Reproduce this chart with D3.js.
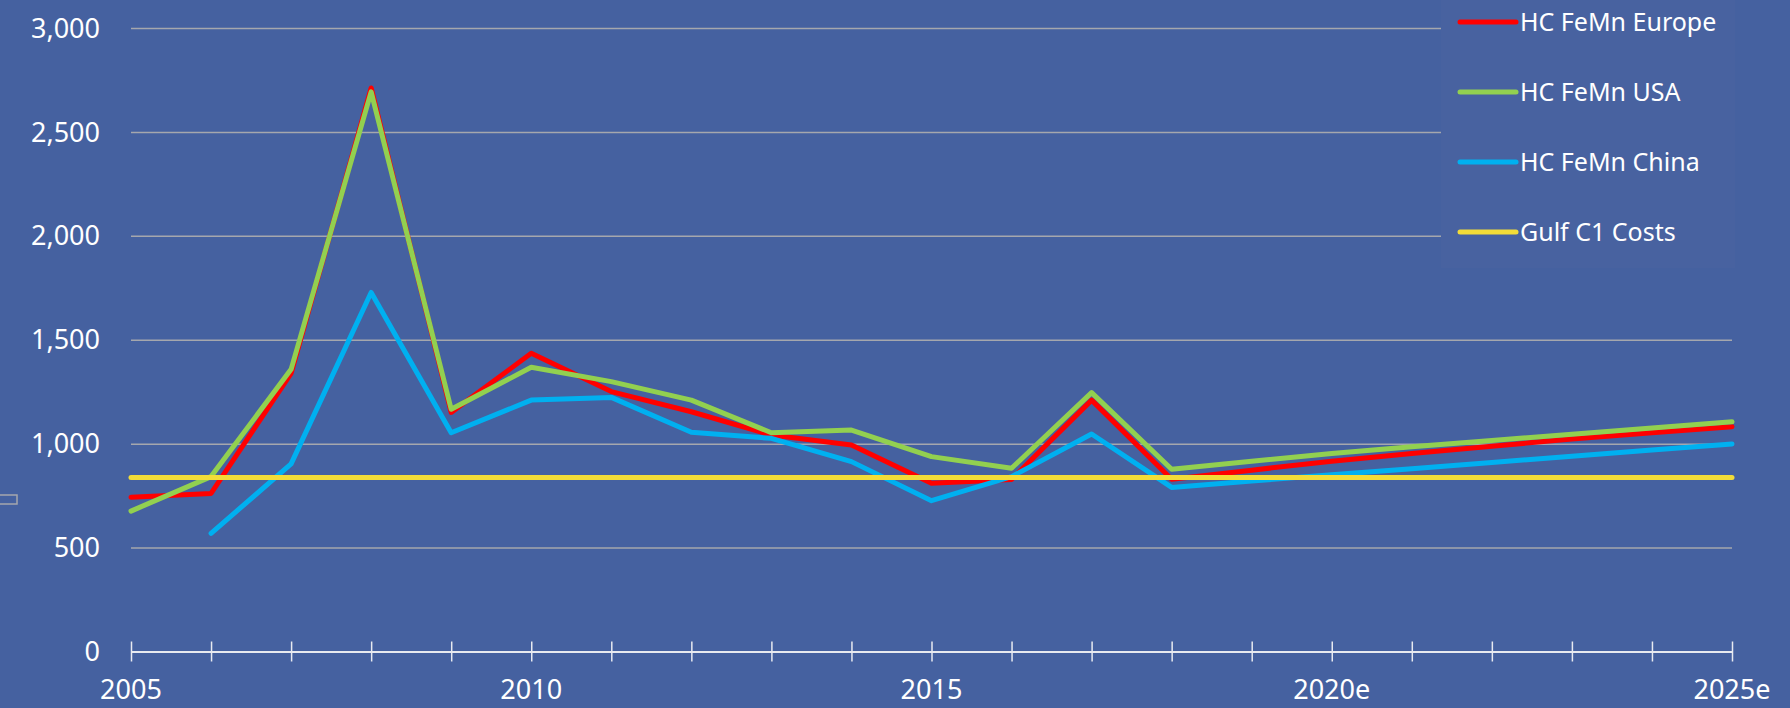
<!DOCTYPE html>
<html>
<head>
<meta charset="utf-8">
<script src="https://cdn.jsdelivr.net/npm/d3@7"></script>
<style>
  body { margin: 0; background: #4561a0; }
  svg { display: block; font-family: "Noto Sans", "Open Sans", sans-serif; }
</style>
</head>
<body>
<div id="graf"></div>
<script>
// Datos
const years = d3.range(2005, 2026)
const xTicks = [2005, 2010, 2015, 2020, 2025]
const xTickLabels = ["2005", "2010", "2015", "2020e", "2025e"]
const yTicks = [0, 500, 1000, 1500, 2000, 2500, 3000]

const europe = [745, 763, 1341, 2714, 1153, 1437, 1253, 1156, 1044, 996, 812, 830, 1212, 831, 875, 918, 955, 990, 1025, 1055, 1084]
const usa = [678, 844, 1360, 2695, 1168, 1370, 1301, 1212, 1055, 1068, 940, 884, 1248, 879, 918, 955, 988, 1018, 1048, 1078, 1108]
const china = [null, 571, 905, 1730, 1055, 1212, 1225, 1057, 1028, 916, 728, 844, 1049, 792, 823, 853, 882, 912, 942, 972, 1001]
const gulf = [840, 840, 840, 840, 840, 840, 840, 840, 840, 840, 840, 840, 840, 840, 840, 840, 840, 840, 840, 840, 840]

const seriesNames = ["HC FeMn Europe", "HC FeMn USA", "HC FeMn China", "Gulf C1 Costs"]
const seriesValues = [europe, usa, china, gulf]
const seriesColors = ["#ff0000", "#92d050", "#00b0f0", "#f2dc38"]

// Dimensiones
const anchoTotal = 1790
const altoTotal = 708

const svg = d3.select("#graf")
  .append("svg")
  .attr("width", anchoTotal)
  .attr("height", altoTotal)

svg.append("rect")
  .attr("width", anchoTotal)
  .attr("height", altoTotal)
  .attr("fill", "#4561a0")

// Escaladores
const x = d3.scaleLinear().domain([2005, 2025]).range([131, 1732])
const y = d3.scaleLinear().domain([0, 3000]).range([652, 28.5])

// Grid
svg.append("g")
  .selectAll("line")
  .data(yTicks.filter((d) => d > 0))
  .join("line")
  .attr("x1", x(2005))
  .attr("x2", x(2025))
  .attr("y1", (d) => y(d))
  .attr("y2", (d) => y(d))
  .attr("stroke", "#a5a7ad")
  .attr("stroke-width", 1.5)

// Eje Y
const yAxis = d3.axisLeft(y)
  .tickValues(yTicks)
  .tickFormat(d3.format(","))
  .tickSize(0)
  .tickPadding(0)

svg.append("g")
  .attr("transform", "translate(100, 0)")
  .call(yAxis)
  .call((g) => g.select(".domain").remove())
  .call((g) => g.selectAll("text")
    .attr("fill", "#ffffff")
    .attr("font-size", 27)
    .attr("font-family", "Noto Sans"))

// Eje X
const xAxis = d3.axisBottom(x)
  .tickValues(years)
  .tickSize(10)
  .tickSizeOuter(0)
  .tickFormat("")

const xg = svg.append("g")
  .attr("transform", `translate(0, ${y(0) - 0.5})`)
  .call(xAxis)
xg.select(".domain").attr("stroke", "#e8eaf0").attr("stroke-width", 2)
xg.selectAll(".tick line")
  .attr("y1", -10)
  .attr("stroke", "#e8eaf0")
  .attr("stroke-width", 1.5)

svg.append("g")
  .selectAll("text")
  .data(xTicks)
  .join("text")
  .attr("x", (d) => x(d))
  .attr("y", 699)
  .attr("text-anchor", "middle")
  .attr("fill", "#ffffff")
  .attr("font-size", 27)
  .text((d, i) => xTickLabels[i])

// small clipped box at the left edge
svg.append("rect")
  .attr("x", -2)
  .attr("y", 495)
  .attr("width", 19)
  .attr("height", 9)
  .attr("fill", "none")
  .attr("stroke", "#a5a7ad")
  .attr("stroke-width", 1.5)

// Legend box
svg.append("rect")
  .attr("x", 1441)
  .attr("y", 0)
  .attr("width", 294)
  .attr("height", 268)
  .attr("fill", "#4862a0")

// Lineas
const line = d3.line()
  .defined((d) => d != null)
  .x((d, i) => x(years[i]))
  .y((d) => y(d))

svg.append("g")
  .selectAll("path")
  .data(seriesValues)
  .join("path")
  .attr("d", line)
  .attr("fill", "none")
  .attr("stroke", (d, i) => seriesColors[i])
  .attr("stroke-width", 5)
  .attr("stroke-linejoin", "round")
  .attr("stroke-linecap", "round")

// Leyenda
const legend = svg.append("g")
  .selectAll("g")
  .data(seriesNames)
  .join("g")
  .attr("transform", (d, i) => `translate(1460, ${22 + i * 70})`)

legend.append("line")
  .attr("x1", 0)
  .attr("x2", 56)
  .attr("stroke", (d, i) => seriesColors[i])
  .attr("stroke-width", 5)
  .attr("stroke-linecap", "round")

legend.append("text")
  .attr("x", 60)
  .attr("dy", "0.35em")
  .attr("fill", "#ffffff")
  .attr("font-size", 25)
  .text((d) => d)
</script>
</body>
</html>
